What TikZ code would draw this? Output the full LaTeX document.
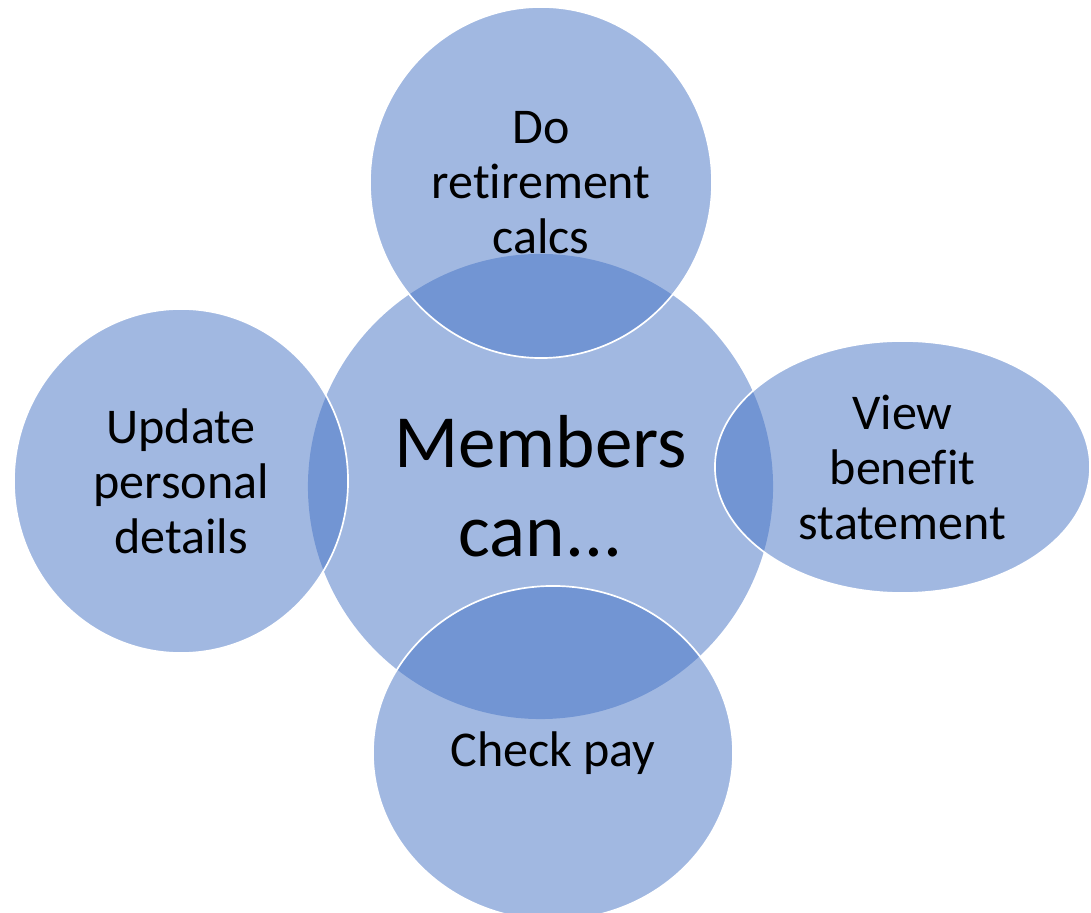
\documentclass[tikz,border=0pt]{standalone}
\usepackage{fontspec}
\setmainfont{Carlito}[Ligatures={NoCommon,NoContextual}]
\usetikzlibrary{shapes.geometric}

\definecolor{accent}{HTML}{4472C4}
\tikzset{
  bubble/.style={ellipse, inner sep=0pt, fill=accent, fill opacity=0.5,
    text opacity=1, draw=white, line width=1.2pt, align=center,
    font=\fontsize{35.6}{39.1}\selectfont},
  hub/.style={bubble, draw=none, font=\fontsize{53.4}{63.3}\selectfont}
}

\begin{document}
\begin{tikzpicture}[x=0.025cm,y=0.025cm]
 \useasboundingbox (0,0) rectangle (1091,913);
 \clip (0,0) rectangle (1091,913);
 \node[hub, minimum width=11.625cm, minimum height=11.625cm] (members) at (540.5,426.5) {Members\\can...};
 \node[bubble, minimum width=8.55cm, minimum height=8.775cm] (calcs) at (541,730.5) {Do\\retirement\\calcs};
 \node[bubble, minimum width=9.375cm, minimum height=6.3cm] (statement) at (902.5,446) {View\\benefit\\statement};
 \node[bubble, minimum width=9cm, minimum height=8.35cm] (pay) at (553,160) {Check pay};
 \node[bubble, minimum width=8.35cm, minimum height=8.6cm] (details) at (181,432) {Update\\personal\\details};
\end{tikzpicture}
\end{document}
